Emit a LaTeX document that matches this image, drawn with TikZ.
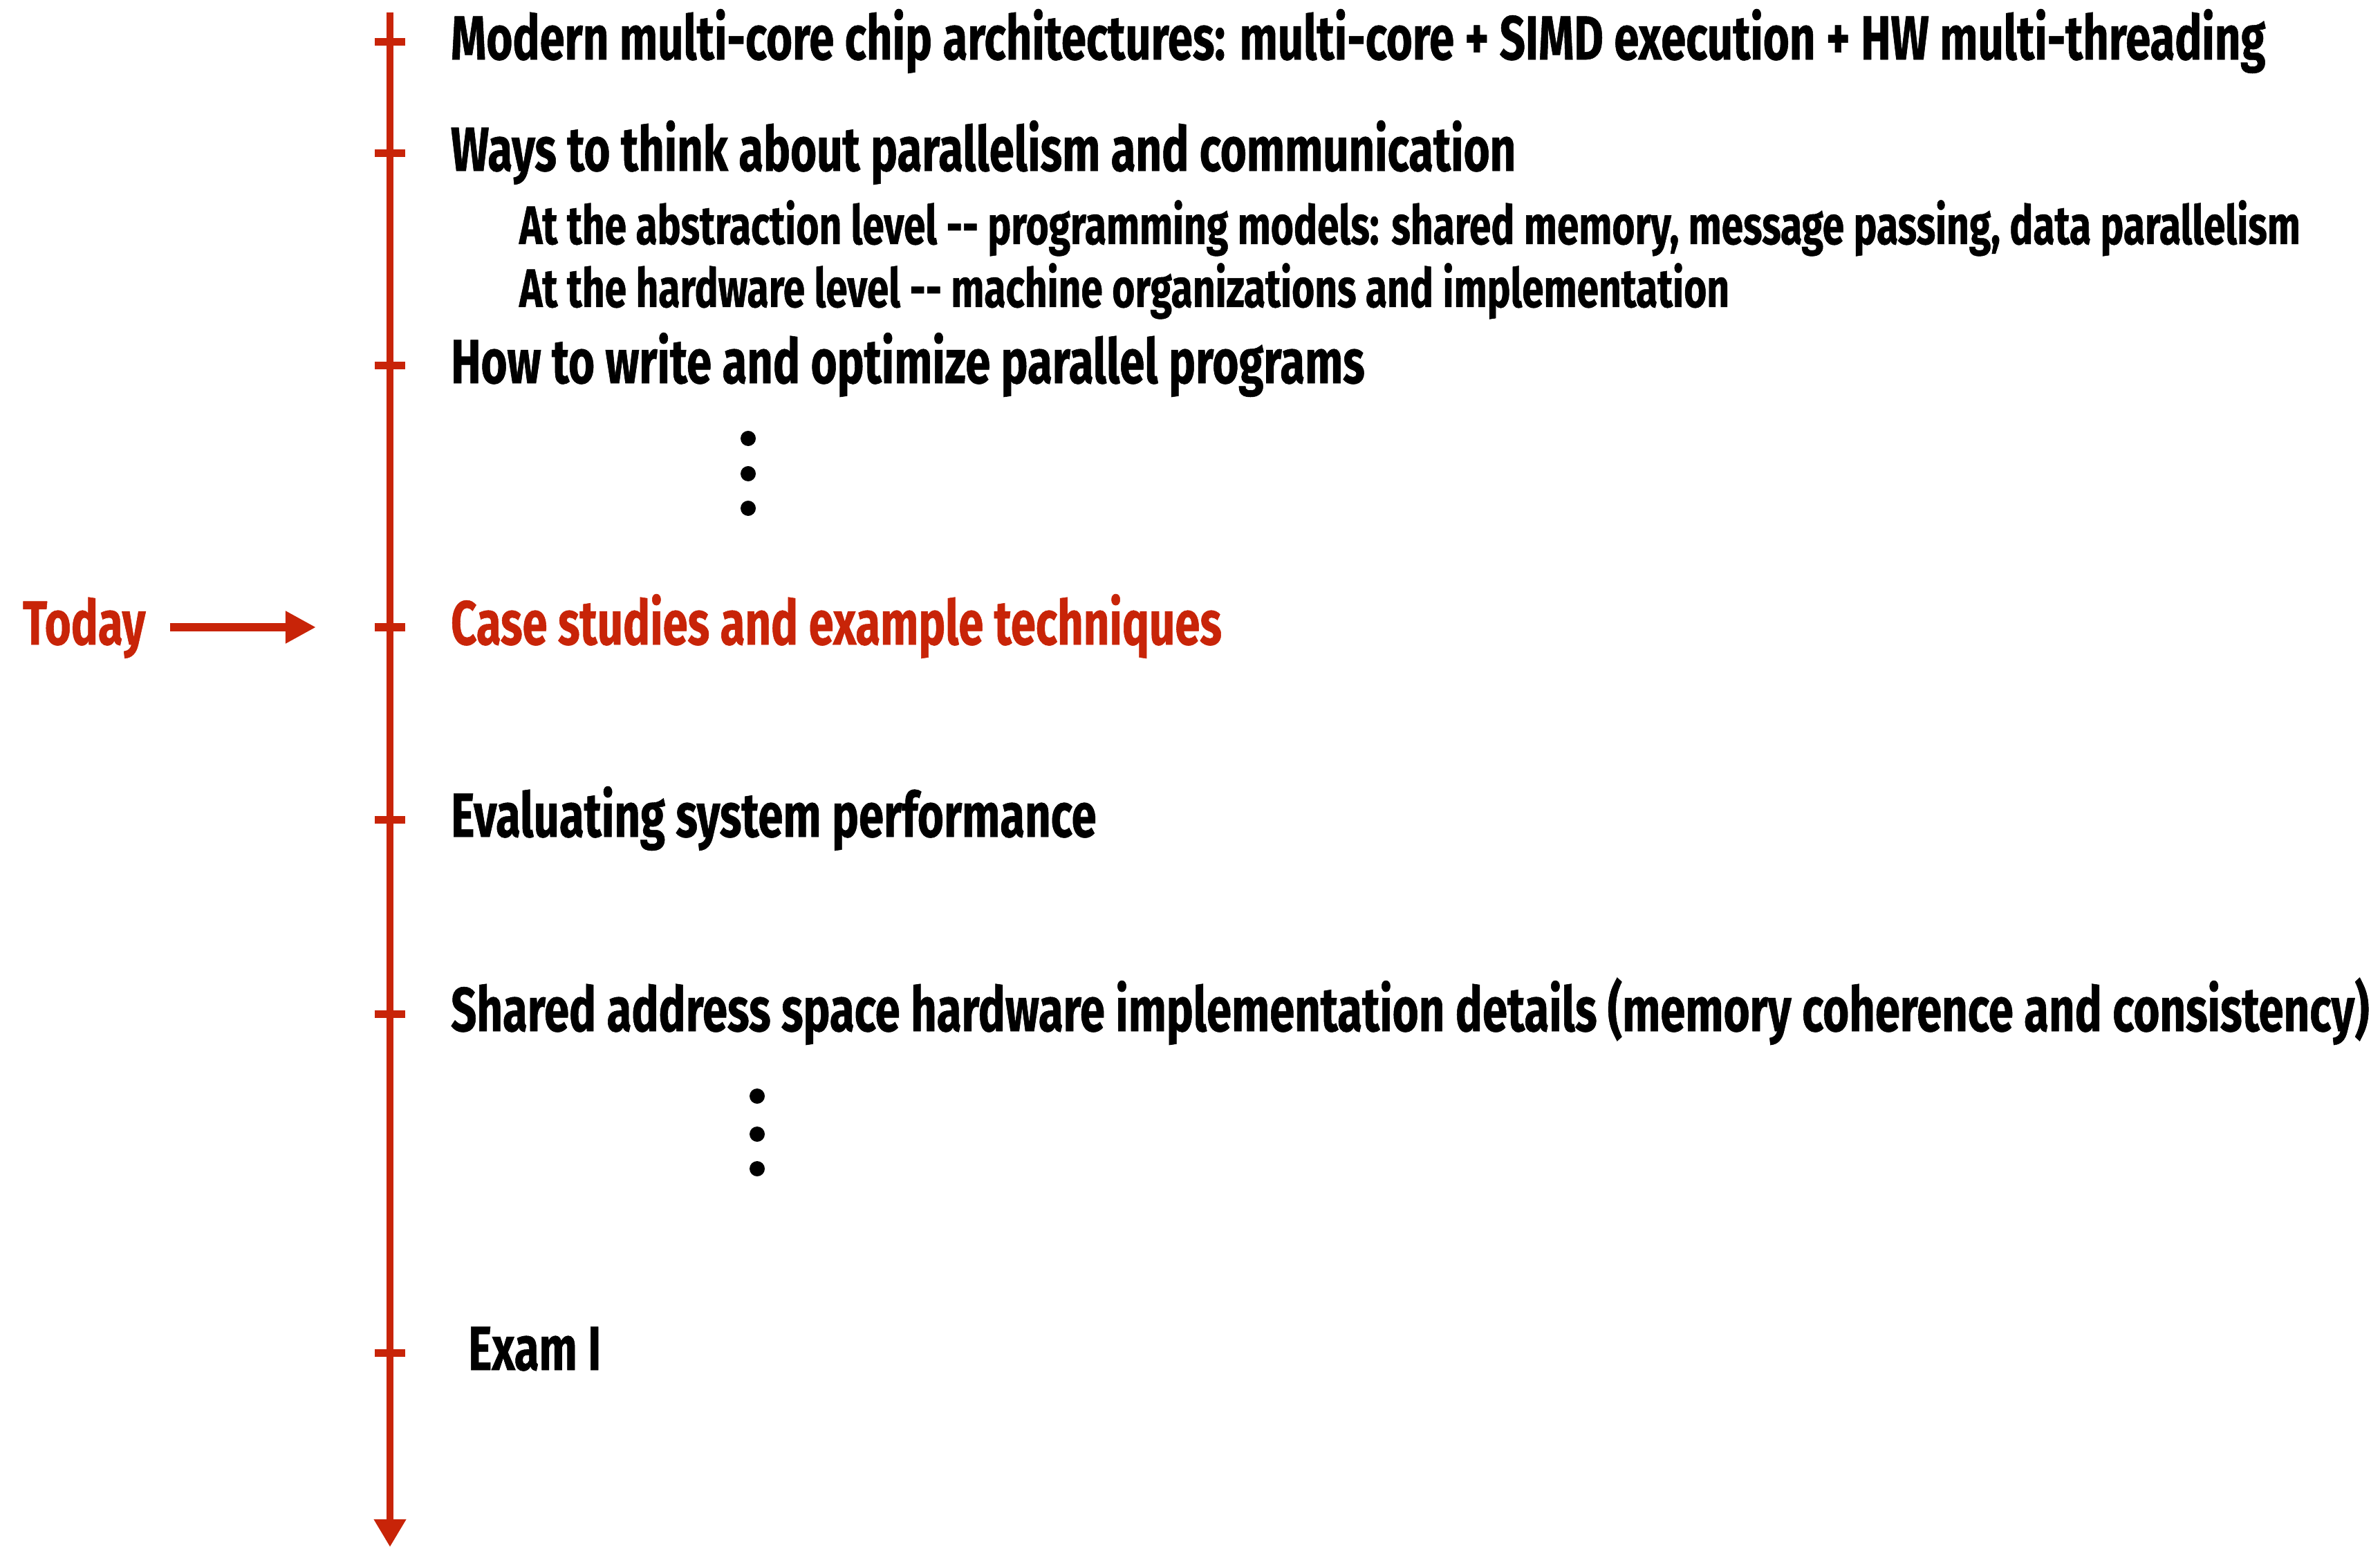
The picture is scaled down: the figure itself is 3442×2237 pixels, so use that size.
\documentclass[tikz,border=0pt]{standalone}
\usepackage{fontspec}
\setmainfont{Fira Sans}[FakeStretch=0.725,BoldFeatures={FakeBold=0.6}]
\usetikzlibrary{arrows.meta,positioning}
\definecolor{todayred}{RGB}{200,36,8}

\begin{document}
\begin{tikzpicture}[x=0.01cm,y=-0.01cm,line width=0.1cm,
                    font=\bfseries\fontsize{25.6}{30}\selectfont]
  \tikzstyle{topic}=[inner sep=0pt,text=black]
  \tikzstyle{subtopic}=[topic,anchor=base west,font=\bfseries\fontsize{22.3}{26}\selectfont]
  \tikzstyle{tick}=[draw=todayred,line width=0.11cm]
  \tikzstyle{timeline}=[draw=todayred,-{Triangle[length=0.4cm,width=0.44cm]}]

  \useasboundingbox (0,0) rectangle (3442,2237);

  \coordinate (top)    at (564,18);
  \coordinate (bottom) at (564,2237);
  \draw[timeline] (top) -- (bottom);

  \foreach \name/\y in {modern/61,ways/222,write/529,case/907,eval/1185,shared/1466,exam/1956}{
    \coordinate (t-\name) at (564,\y);
    \draw[tick] ([xshift=-0.22cm]t-\name) -- ([xshift=0.22cm]t-\name);
  }

  \node[topic] (modern) [right=0.83cm of t-modern,anchor=base west,yshift=-0.25cm] {Modern multi-core chip architectures: multi-core + SIMD execution + HW multi-threading};
  \node[topic] (ways)   [right=0.83cm of t-ways,anchor=base west,yshift=-0.25cm]   {Ways to think about parallelism and communication};
  \node[subtopic] (abstraction) at (746,353) {At the abstraction level -{}- programming models: shared memory, message passing, data parallelism};
  \node[subtopic] (hardware)    at (746,444) {At the hardware level -{}- machine organizations and implementation};
  \node[topic] (write)  [right=0.83cm of t-write,anchor=base west,yshift=-0.25cm]  {How to write and optimize parallel programs};
  \node[topic,text=todayred] (case) [right=0.83cm of t-case,anchor=base west,yshift=-0.25cm] {Case studies and example techniques};
  \node[topic] (eval)   [right=0.83cm of t-eval,anchor=base west,yshift=-0.25cm]   {Evaluating system performance};
  \node[topic] (shared) [right=0.83cm of t-shared,anchor=base west,yshift=-0.25cm] {Shared address space hardware implementation details (memory coherence and consistency)};
  \node[topic] (exam)   [right=1.08cm of t-exam,anchor=base west,yshift=-0.25cm]   {Exam I};

  \foreach \y in {634,685,735}
    \fill (1082,\y) circle (0.11cm);
  \foreach \y in {1585,1640,1690}
    \fill (1095,\y) circle (0.11cm);

  \node[topic,text=todayred,anchor=base west] (today) at (28,932) {Today};
  \coordinate (today-tip) at (457,907);
  \draw[todayred,line width=0.11cm,-{Triangle[length=0.44cm,width=0.44cm]},shorten <=0.3cm]
    (today.east |- today-tip) -- (today-tip);
\end{tikzpicture}
\end{document}
